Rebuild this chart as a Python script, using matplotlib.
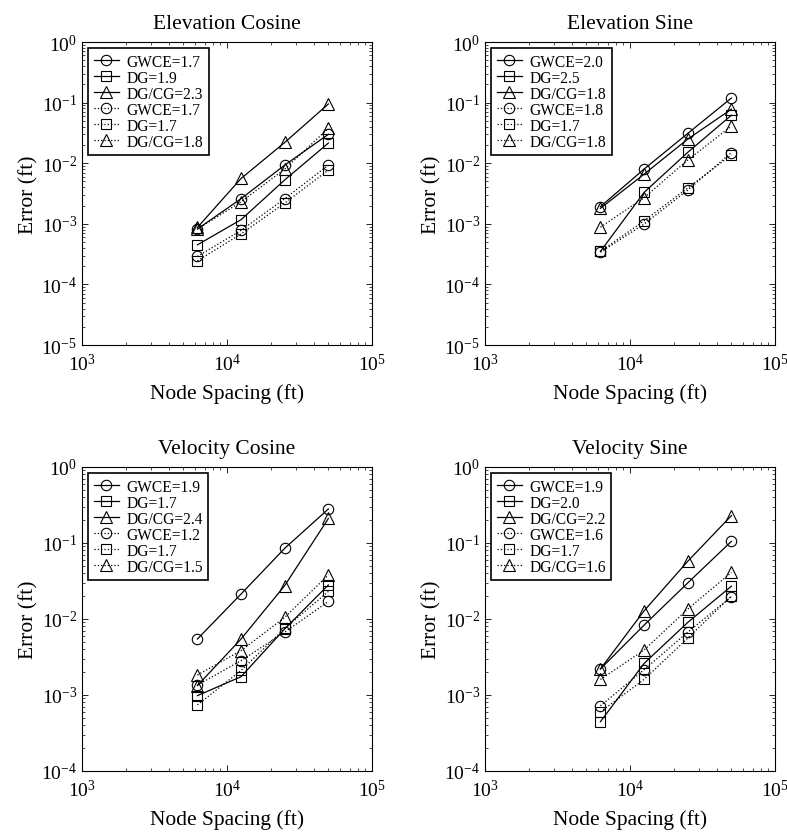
import numpy as np
import matplotlib
matplotlib.use("Agg")
import matplotlib.pyplot as plt
from matplotlib.ticker import LogLocator, NullFormatter

plt.rcParams['font.family'] = ['Liberation Serif', 'DejaVu Serif']
plt.rcParams['mathtext.fontset'] = 'custom'
plt.rcParams['mathtext.rm'] = 'Liberation Serif'
plt.rcParams['mathtext.it'] = 'Liberation Serif:italic'
plt.rcParams['mathtext.bf'] = 'Liberation Serif:bold'
plt.rcParams['axes.unicode_minus'] = False

# node spacing (ft)
spacing = [6250, 12500, 25000, 50000]

# Elevation Cosine
ec_labels = ["GWCE=1.7", "DG=1.9", "DG/CG=2.3", "GWCE=1.7", "DG=1.7", "DG/CG=1.8"]
ec_gwce = [8.2e-4, 2.6e-3, 9.3e-3, 0.030]
ec_dg = [4.5e-4, 1.17e-3, 5.3e-3, 0.0215]
ec_dgcg = [8.7e-4, 5.6e-3, 0.022, 0.095]
ec_gwce_d = [2.9e-4, 7.8e-4, 2.6e-3, 9.3e-3]
ec_dg_d = [2.45e-4, 6.8e-4, 2.2e-3, 7.7e-3]
ec_dgcg_d = [8.2e-4, 2.3e-3, 8.0e-3, 0.0377]

# Elevation Sine
es_labels = ["GWCE=2.0", "DG=2.5", "DG/CG=1.8", "GWCE=1.8", "DG=1.7", "DG/CG=1.8"]
es_gwce = [1.92e-3, 8.0e-3, 0.031, 0.119]
es_dg = [3.5e-4, 3.3e-3, 0.0151, 0.062]
es_dgcg = [1.8e-3, 6.6e-3, 0.025, 0.078]
es_gwce_d = [3.4e-4, 9.9e-4, 3.6e-3, 0.015]
es_dg_d = [3.5e-4, 1.12e-3, 3.9e-3, 0.0137]
es_dgcg_d = [8.8e-4, 2.7e-3, 0.0113, 0.041]

# Velocity Cosine
vc_labels = ["GWCE=1.9", "DG=1.7", "DG/CG=2.4", "GWCE=1.2", "DG=1.7", "DG/CG=1.5"]
vc_gwce = [5.45e-3, 0.0213, 0.085, 0.28]
vc_dg = [9.8e-4, 1.74e-3, 7.4e-3, 0.028]
vc_dgcg = [1.33e-3, 5.45e-3, 0.0275, 0.21]
vc_gwce_d = [1.35e-3, 2.83e-3, 6.7e-3, 0.017]
vc_dg_d = [7.4e-4, 2.1e-3, 7.5e-3, 0.023]
vc_dgcg_d = [1.83e-3, 3.83e-3, 0.0105, 0.038]

# Velocity Sine
vs_labels = ["GWCE=1.9", "DG=2.0", "DG/CG=2.2", "GWCE=1.6", "DG=1.7", "DG/CG=1.6"]
vs_gwce = [2.2e-3, 8.3e-3, 0.0298, 0.105]
vs_dg = [4.45e-4, 2.6e-3, 9.0e-3, 0.027]
vs_dgcg = [2.2e-3, 0.0128, 0.0574, 0.229]
vs_gwce_d = [7.2e-4, 2.15e-3, 6.7e-3, 0.0197]
vs_dg_d = [6.0e-4, 1.6e-3, 5.6e-3, 0.020]
vs_dgcg_d = [1.6e-3, 3.9e-3, 0.0135, 0.041]

panels = [
    ("Elevation Cosine", ec_labels, [ec_gwce, ec_dg, ec_dgcg, ec_gwce_d, ec_dg_d, ec_dgcg_d], 1e-5),
    ("Elevation Sine", es_labels, [es_gwce, es_dg, es_dgcg, es_gwce_d, es_dg_d, es_dgcg_d], 1e-5),
    ("Velocity Cosine", vc_labels, [vc_gwce, vc_dg, vc_dgcg, vc_gwce_d, vc_dg_d, vc_dgcg_d], 1e-4),
    ("Velocity Sine", vs_labels, [vs_gwce, vs_dg, vs_dgcg, vs_gwce_d, vs_dg_d, vs_dgcg_d], 1e-4),
]

positions = [
    [0.1042, 0.5866, 0.3685, 0.362],
    [0.6163, 0.5866, 0.3685, 0.362],
    [0.1042, 0.0777, 0.3685, 0.3632],
    [0.6163, 0.0777, 0.3685, 0.3632],
]

markers = ['o', 's', '^', 'o', 's', '^']
msizes = [7.5, 7, 9, 7.5, 7, 9]
styles = ['-', '-', '-', ':', ':', ':']

fig = plt.figure(figsize=(7.87, 8.37), dpi=100)

for (title, labels, series, ymin), pos in zip(panels, positions):
    ax = fig.add_axes(pos)
    for vals, mk, ms, ls, lab in zip(series, markers, msizes, styles, labels):
        ax.plot(spacing, vals, color='black', linestyle=ls, linewidth=0.9,
                marker=mk, markersize=ms, markerfacecolor='none',
                markeredgecolor='black', markeredgewidth=0.8, label=lab)
    ax.set_xscale('log')
    ax.set_yscale('log')
    ax.set_xlim(1e3, 1e5)
    ax.set_ylim(ymin, 1)
    ax.xaxis.set_major_locator(LogLocator(base=10, numticks=10))
    ax.yaxis.set_major_locator(LogLocator(base=10, numticks=10))
    ax.xaxis.set_minor_locator(LogLocator(base=10, subs=np.arange(2, 10), numticks=20))
    ax.yaxis.set_minor_locator(LogLocator(base=10, subs=np.arange(2, 10), numticks=20))
    ax.xaxis.set_minor_formatter(NullFormatter())
    ax.yaxis.set_minor_formatter(NullFormatter())
    ax.tick_params(which='both', direction='in', top=True, right=True, labelsize=14)
    ax.tick_params(which='major', length=4, width=0.6)
    ax.tick_params(which='minor', length=2, width=0.5)
    ax.tick_params(axis='x', pad=6)
    for s in ax.spines.values():
        s.set_linewidth(0.8)
    ax.set_title(title, fontsize=15.5, pad=10)
    ax.set_xlabel('Node Spacing (ft)', fontsize=15.5, labelpad=6)
    ax.set_ylabel('Error (ft)', fontsize=15.5, labelpad=2)
    leg = ax.legend(loc='upper left', fontsize=11.2, handlelength=1.6, handletextpad=0.5,
                    labelspacing=0.0, borderpad=0.35, borderaxespad=0.4, fancybox=False,
                    framealpha=1, edgecolor='black')
    leg.get_frame().set_linewidth(1.2)

fig.savefig('out.png', dpi=100)
